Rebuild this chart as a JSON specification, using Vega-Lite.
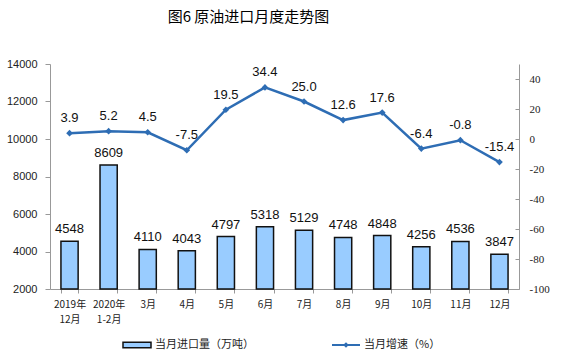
{
  "$schema": "https://vega.github.io/schema/vega-lite/v6.json",
  "width": 469,
  "height": 225,
  "autosize": {"type": "none"},
  "padding": {"left": 50, "top": 64, "right": 42, "bottom": 68},
  "background": "white",
  "title": {"text": "图6  原油进口月度走势图", "font": "Noto Sans CJK SC", "fontSize": 15, "fontWeight": "normal", "color": "#000", "anchor": "middle", "dx": -36, "offset": 33},
  "config": {"view": {"stroke": null}, "axis": {"grid": false, "labelOverlap": false, "labelFlush": false},
    "locale": {"number": {"decimal": ".", "thousands": ",", "grouping": [3], "currency": ["$", ""], "minus": "-"}}},
  "data": {"values": [
    {"month": "2019年|12月", "volume": 4548, "growth": 3.9, "s1": "当月进口量（万吨）", "s2": "当月增速（%）"},
    {"month": "2020年|1-2月", "volume": 8609, "growth": 5.2, "s1": "当月进口量（万吨）", "s2": "当月增速（%）"},
    {"month": "3月", "volume": 4110, "growth": 4.5, "s1": "当月进口量（万吨）", "s2": "当月增速（%）"},
    {"month": "4月", "volume": 4043, "growth": -7.5, "s1": "当月进口量（万吨）", "s2": "当月增速（%）"},
    {"month": "5月", "volume": 4797, "growth": 19.5, "s1": "当月进口量（万吨）", "s2": "当月增速（%）"},
    {"month": "6月", "volume": 5318, "growth": 34.4, "s1": "当月进口量（万吨）", "s2": "当月增速（%）"},
    {"month": "7月", "volume": 5129, "growth": 25.0, "s1": "当月进口量（万吨）", "s2": "当月增速（%）"},
    {"month": "8月", "volume": 4748, "growth": 12.6, "s1": "当月进口量（万吨）", "s2": "当月增速（%）"},
    {"month": "9月", "volume": 4848, "growth": 17.6, "s1": "当月进口量（万吨）", "s2": "当月增速（%）"},
    {"month": "10月", "volume": 4256, "growth": -6.4, "s1": "当月进口量（万吨）", "s2": "当月增速（%）"},
    {"month": "11月", "volume": 4536, "growth": -0.8, "s1": "当月进口量（万吨）", "s2": "当月增速（%）"},
    {"month": "12月", "volume": 3847, "growth": -15.4, "s1": "当月进口量（万吨）", "s2": "当月增速（%）"}
  ]},
  "encoding": {
    "x": {"field": "month", "type": "nominal", "sort": null,
      "scale": {"paddingInner": 0.56, "paddingOuter": 0.28},
      "axis": {"title": null, "labelAngle": 0, "labelOverlap": false, "labelExpr": "split(datum.label, '|')", "labelFont": "Noto Sans CJK SC", "labelFontSize": 10, "labelColor": "#222", "labelPadding": 6, "labelLineHeight": 15, "tickBand": "extent", "tickSize": 4, "tickColor": "#999", "domainColor": "#999", "labelBaseline": "top"}}
  },
  "layer": [
    {
      "encoding": {
        "y": {"field": "volume", "type": "quantitative", "scale": {"domain": [2000, 14000], "zero": false, "nice": false},
          "axis": {"title": null, "format": "d", "labelOverlap": false, "labelFlush": false, "values": [2000, 4000, 6000, 8000, 10000, 12000, 14000], "labelFont": "Liberation Sans", "labelFontSize": 11, "labelColor": "#222", "tickColor": "#999", "domainColor": "#999", "tickSize": 5, "labelPadding": 8}}
      },
      "layer": [
        {
          "mark": {"type": "bar", "stroke": "#111", "strokeWidth": 1.5},
          "encoding": {
            "y2": {"datum": 2000},
            "fill": {"field": "s1", "type": "nominal", "scale": {"range": ["#99CCFF"]},
              "legend": {"title": null, "orient": "none", "legendX": 72, "legendY": 266, "symbolType": "M-1,-0.2H1V0.2H-1Z", "symbolSize": 784, "symbolStrokeColor": "#111", "symbolStrokeWidth": 1.5, "labelFont": "Noto Sans CJK SC", "labelFontSize": 11, "labelColor": "#222", "labelOffset": 3}}
          }
        },
        {
          "mark": {"type": "text", "dy": -12, "font": "Liberation Sans", "fontSize": 13, "color": "#111"},
          "encoding": {
            "text": {"field": "volume", "type": "quantitative", "format": "d"}
          }
        }
      ]
    },
    {
      "encoding": {
        "y": {"field": "growth", "type": "quantitative", "scale": {"domain": [-100, 50], "nice": false},
          "axis": {"title": null, "orient": "right", "format": "d", "labelOverlap": false, "labelFlush": false, "values": [-100, -80, -60, -40, -20, 0, 20, 40], "labelFont": "Liberation Serif", "labelFontSize": 11, "labelColor": "#222", "tickColor": "#999", "domainColor": "#999", "tickSize": -4, "labelPadding": 14}}
      },
      "layer": [
        {
          "mark": {"type": "line", "color": "#2E6DB4", "strokeWidth": 2.5},
          "encoding": {
            "stroke": {"field": "s2", "type": "nominal", "scale": {"range": ["#2E6DB4"]},
              "legend": {"title": null, "orient": "none", "legendX": 281, "legendY": 266, "symbolType": "M-1,0H1M-0.1,0L0,-0.1L0.1,0L0,0.1Z", "symbolSize": 784, "symbolFillColor": "#2E6DB4", "symbolStrokeWidth": 2, "labelFont": "Noto Sans CJK SC", "labelFontSize": 11, "labelColor": "#222", "labelOffset": 3}}
          }
        },
        {
          "mark": {"type": "point", "shape": "diamond", "filled": true, "size": 45, "color": "#2E6DB4", "opacity": 1},
          "encoding": {}
        },
        {
          "mark": {"type": "text", "dy": -15, "font": "Liberation Sans", "fontSize": 13, "color": "#111"},
          "encoding": {
            "text": {"field": "growth", "type": "quantitative", "format": ".1f"}
          }
        }
      ]
    }
  ],
  "resolve": {"scale": {"y": "independent", "fill": "independent", "stroke": "independent"}, "legend": {"fill": "independent", "stroke": "independent"}}
}
